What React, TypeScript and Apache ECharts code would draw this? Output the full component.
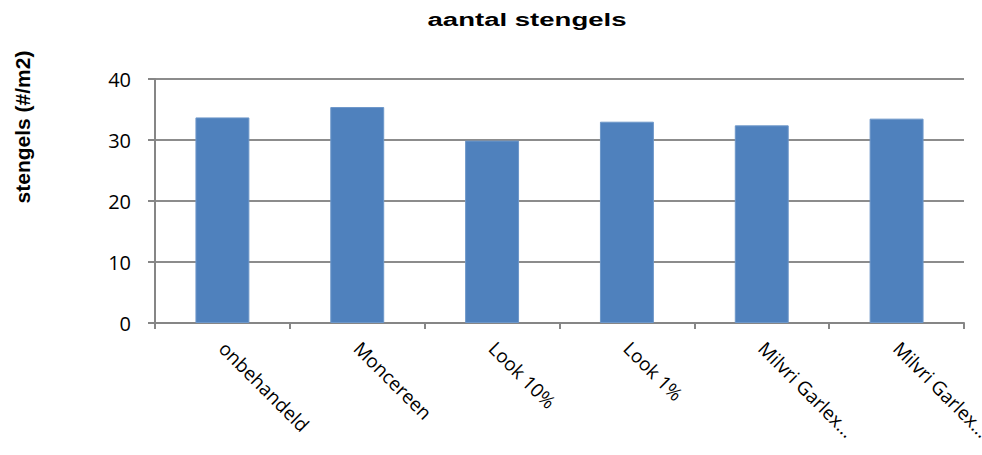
import React, { useEffect, useRef } from "react";
import * as echarts from "echarts";

const titleText = "aantal stengels";
const yAxisTitle = "stengels (#/m2)";
const categories = ["onbehandeld", "Moncereen", "Look 10%", "Look 1%", "Milvri Garlex...", "Milvri Garlex..."];
const values = [33.7, 35.4, 29.9, 33.0, 32.4, 33.5];
const yTicks = { min: 0, max: 40, interval: 10 };

export default function App() {
  const ref = useRef<HTMLDivElement>(null);
  useEffect(() => {
    if (!ref.current) return;
    const chart = echarts.init(ref.current, null, { renderer: "svg" });
    chart.setOption({
      animation: false,
      backgroundColor: "#ffffff",
      graphic: [
        {
          type: "text",
          x: 527,
          y: 20,
          scaleX: 1.45,
          style: {
            text: titleText,
            font: "bold 19px 'Liberation Sans', Arial, sans-serif",
            fill: "#000",
            textAlign: "center",
            textVerticalAlign: "middle",
          },
        },
        {
          type: "text",
          x: 22,
          y: 127,
          rotation: Math.PI / 2,
          style: {
            text: yAxisTitle,
            font: "bold 21px 'Liberation Sans', Arial, sans-serif",
            fill: "#000",
            textAlign: "center",
            textVerticalAlign: "middle",
          },
        },
      ],
      grid: { left: 155, right: 18, top: 79, bottom: 132, containLabel: false, outerBoundsMode: "none" },
      xAxis: {
        type: "category",
        data: categories,
        axisLine: { lineStyle: { color: "#868686", width: 2 } },
        axisTick: { show: true, alignWithLabel: false, length: 6, lineStyle: { color: "#868686", width: 2 } },
        axisLabel: {
          rotate: -45,
          margin: 22,
          interval: 0,
          color: "#000",
          fontSize: 19,
          fontFamily: "'Open Sans', sans-serif",
        },
      },
      yAxis: {
        type: "value",
        min: yTicks.min,
        max: yTicks.max,
        interval: yTicks.interval,
        axisLine: { show: true, lineStyle: { color: "#868686", width: 2 } },
        axisTick: { show: true, length: 7, lineStyle: { color: "#868686", width: 2 } },
        splitLine: { show: true, lineStyle: { color: "#8c8c8c", width: 2 } },
        axisLabel: {
          margin: 24,
          color: "#000",
          fontSize: 20,
          fontFamily: "'Open Sans', sans-serif",
        },
      },
      series: [
        {
          type: "bar",
          data: values,
          barWidth: "40%",
          itemStyle: { color: "#4F81BD", borderColor: "#6d97c9", borderWidth: 1 },
        },
      ],
    });
    return () => chart.dispose();
  }, []);
  return <div ref={ref} style={{ position: "absolute", left: 0, top: 0, width: 982, height: 455 }} />;
}
